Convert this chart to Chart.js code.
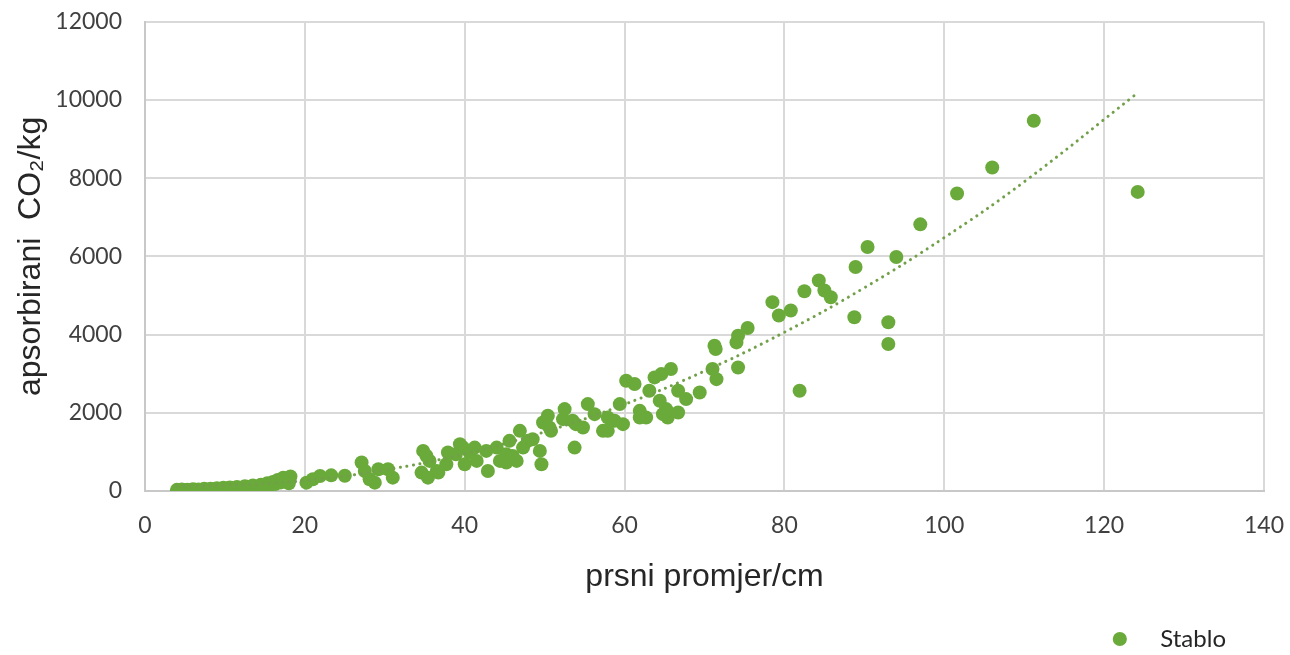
<!DOCTYPE html>
<html>
<head>
<meta charset="utf-8">
<script src="https://cdn.jsdelivr.net/npm/chart.js@4"></script>
<style>
  html, body { margin: 0; padding: 0; background: #fff; }
  #wrap { width: 1290px; height: 655px; }
</style>
</head>
<body>
<div id="wrap"><canvas id="co2Chart" width="1290" height="655"></canvas></div>
<script>
// prsni promjer (cm) i apsorbirani CO2 (kg) po stablu
var diameters = [
    4.0, 4.3, 4.6, 5.0, 5.3, 5.6, 6.0, 6.3, 6.7, 7.0, 7.4, 7.8, 8.2, 8.6, 9.0, 9.4, 9.8, 10.2, 10.6, 11.0,
    11.5, 12.0, 12.5, 13.0, 13.5, 14.0, 14.5, 15.0, 15.3, 15.6, 16.0, 16.3, 16.6, 17.0, 17.3, 17.7, 18.2, 18.0,
    20.2, 21.0, 21.9, 23.3, 25.0, 27.1, 27.5, 28.1, 28.75, 29.2, 30.4, 31.0, 34.8, 34.6, 35.4, 35.6, 36.7,
    37.7, 37.9, 38.9, 39.4, 40.0, 36.5, 35.2,
    39.8, 40.6, 41.25, 41.5, 42.7, 42.9, 44.0, 44.4, 45.2, 45.2, 45.6, 46.0, 46.5, 46.9, 47.3, 47.9, 48.5,
    49.4, 49.6, 49.8, 50.4, 50.6, 50.8, 52.3, 52.5, 53.5, 53.75, 53.9, 54.8, 55.4, 56.25,
    57.3, 57.9, 58.75, 59.4, 59.8, 60.2, 61.25, 61.9, 62.7, 63.1, 63.75, 64.6, 65.8, 64.4, 65.2, 65.4,
    66.7, 66.7, 67.7, 69.4, 64.8, 57.9, 61.9,
    71.0, 71.25, 71.4, 71.5, 74.0, 74.2, 74.2, 75.4, 78.5, 79.3, 80.8, 81.9, 82.5, 84.3, 85.0, 85.8,
    88.75, 88.9, 90.4, 93.0, 93.0, 94.0, 97.0, 101.6, 106.0, 111.2, 124.2
];
var co2Absorbed = [
    30, 20, 40, 25, 35, 20, 45, 30, 40, 25, 55, 35, 60, 45, 70, 50, 80, 60, 90, 70,
    100, 80, 120, 95, 140, 110, 160, 130, 200, 150, 230, 180, 280, 220, 340, 260, 370, 200,
    214, 300, 384, 400, 390, 727, 513, 299, 214, 556, 556, 342, 1026, 470, 342, 770, 470,
    684, 983, 940, 1197, 684, 513, 900,
    1110, 983, 1110, 770, 1026, 513, 1110, 770, 940, 727, 1282, 897, 770, 1538, 1110, 1282, 1325,
    1026, 685, 1752, 1923, 1624, 1538, 1838, 2094, 1795, 1110, 1710, 1624, 2223, 1966,
    1538, 1880, 1795, 2223, 1710, 2820, 2735, 2050, 1880, 2564, 2905, 2990, 3120, 2308, 2094, 1880,
    2564, 2008, 2350, 2520, 1966, 1538, 1880,
    3120, 3718, 3630, 2860, 3800, 3970, 3160, 4170, 4830, 4490, 4615, 2564, 5110, 5385, 5128, 4957,
    4444, 5727, 6240, 4316, 3760, 5983, 6820, 7607, 8274, 9470, 7650
];

// točkasta linija trenda očitana sa slike
var trendX = [4, 10, 20, 30, 40, 50, 60, 70, 80, 90, 100, 110, 124];
var trendY = [130, 140, 266, 537, 953, 1512, 2216, 3066, 4060, 5198, 6481, 7908, 10150];

var xTicks = [0, 20, 40, 60, 80, 100, 120, 140];
var yTicks = [0, 2000, 4000, 6000, 8000, 10000, 12000];

var seriesName = 'Stablo';
var green = '#6aaa3a';

var points = diameters.map(function (d, i) { return { x: d, y: co2Absorbed[i] }; });
var trend = trendX.map(function (d, i) { return { x: d, y: trendY[i] }; });

// legenda je u originalu malo lijevo od desnog ruba i niže
var legendShift = {
    id: 'legendShift',
    afterLayout: function (c) {
        c.legend.right -= 62;
        c.legend.top += 6;
        c.legend.bottom += 6;
    }
};

var ctx = document.getElementById('co2Chart').getContext('2d');
var chart = new Chart(ctx, {
    type: 'scatter',
    data: {
        datasets: [{
            label: seriesName,
            data: points,
            backgroundColor: green,
            borderColor: green,
            pointRadius: 7,
            pointHoverRadius: 7,
            pointBorderWidth: 0
        },
        {
            label: 'trend',
            type: 'line',
            order: -1,
            data: trend,
            showLine: true,
            fill: false,
            borderColor: '#72a04a',
            borderWidth: 3,
            borderDash: [0.1, 6.5],
            borderCapStyle: 'round',
            tension: 0.4,
            pointRadius: 0
        }]
    },
    plugins: [legendShift],
    options: {
        responsive: false,
        animation: false,
        layout: { padding: { left: 10, top: 0, right: 0, bottom: 0 } },
        plugins: {
            tooltip: { enabled: false },
            legend: {
                position: 'bottom',
                align: 'end',
                labels: {
                    filter: function (item) { return item.datasetIndex === 0; },
                    generateLabels: function (c) {
                        return Chart.defaults.plugins.legend.labels.generateLabels(c).map(function (item) {
                            item.text = '   ' + item.text;
                            return item;
                        });
                    },
                    usePointStyle: true,
                    pointStyle: 'circle',
                    boxWidth: 20,
                    boxHeight: 10,
                    padding: 2,
                    color: '#262626',
                    font: { family: 'Lato', size: 24 }
                }
            }
        },
        scales: {
            x: {
                type: 'linear',
                min: 0,
                max: 140,
                afterBuildTicks: function (scale) {
                    scale.ticks = xTicks.map(function (v) { return { value: v }; });
                },
                afterFit: function (scale) { scale.height = 128; },
                grid: { color: '#d9d9d9', lineWidth: 2, drawTicks: true, tickLength: 15, tickColor: 'rgba(0,0,0,0)' },
                border: { color: '#c8c8c8', width: 2 },
                ticks: {
                    padding: 6,
                    color: '#404040',
                    font: { family: 'Lato', size: 23 },
                    callback: function (v) { return String(v); }
                },
                title: {
                    display: true,
                    text: 'prsni promjer/cm',
                    color: '#262626',
                    padding: { top: 0, bottom: 23 },
                    font: { family: 'Liberation Sans', size: 32 }
                }
            },
            y: {
                type: 'linear',
                min: 0,
                max: 12000,
                afterBuildTicks: function (scale) {
                    scale.ticks = yTicks.map(function (v) { return { value: v }; });
                },
                afterFit: function (scale) { scale.width = 135; },
                grid: { color: '#d9d9d9', lineWidth: 2, drawTicks: true, tickLength: 15, tickColor: 'rgba(0,0,0,0)' },
                border: { color: '#c8c8c8', width: 2 },
                ticks: {
                    padding: 8,
                    color: '#404040',
                    font: { family: 'Lato', size: 23 },
                    callback: function (v) { return String(v); }
                },
                title: {
                    display: true,
                    text: 'apsorbirani  CO\u2082/kg',
                    color: '#262626',
                    padding: { top: 2, bottom: 0 },
                    font: { family: 'Liberation Sans', size: 32 }
                }
            }
        }
    }
});
</script>
</body>
</html>
